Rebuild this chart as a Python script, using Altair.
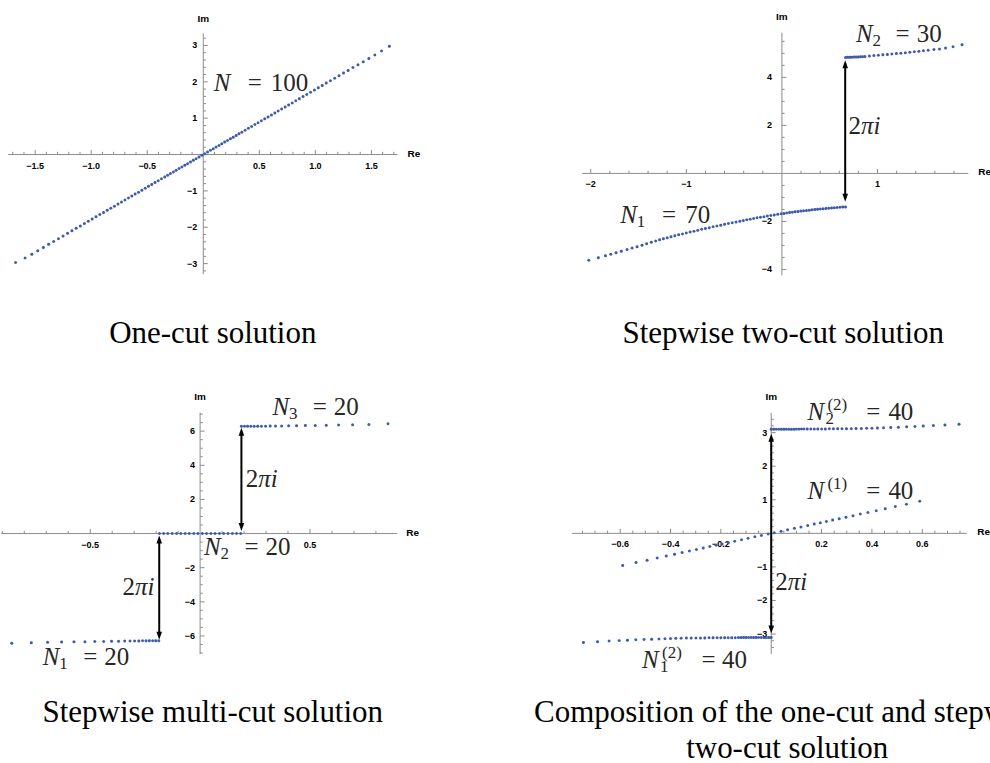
import altair as alt
import numpy as np
import pandas as pd

SERIF = "Liberation Serif"
SANS = "Liberation Sans"
DOT_BLUE = "#3D5BAA"
AXIS_GREY = "#8C8C8C"
INK = "#262626"
MATH = 25
SCRIPT = 17
CAPTION = 31

# ---------------- eigenvalue positions (Re, Im) ----------------
# One-cut solution, N = 100
one_re_neg = [-1.675, -1.590, -1.530, -1.477, -1.427, -1.380, -1.335, -1.292, -1.251, -1.211,
              -1.172, -1.134, -1.097, -1.061, -1.026, -0.991, -0.957, -0.923, -0.890, -0.857,
              -0.825, -0.793, -0.761, -0.730, -0.699, -0.668, -0.638, -0.608, -0.578, -0.548,
              -0.518, -0.489, -0.460, -0.431, -0.402, -0.373, -0.344, -0.318, -0.293, -0.267,
              -0.242, -0.216, -0.191, -0.165, -0.140, -0.114, -0.089, -0.064, -0.038, -0.013]
one_im_neg = [-2.970, -2.846, -2.739, -2.644, -2.554, -2.470, -2.390, -2.313, -2.239, -2.168,
              -2.098, -2.030, -1.964, -1.899, -1.837, -1.774, -1.713, -1.652, -1.593, -1.534,
              -1.477, -1.419, -1.362, -1.307, -1.251, -1.196, -1.142, -1.088, -1.035, -0.981,
              -0.927, -0.875, -0.823, -0.771, -0.720, -0.668, -0.616, -0.569, -0.524, -0.478,
              -0.433, -0.387, -0.342, -0.295, -0.251, -0.204, -0.159, -0.115, -0.068, -0.023]
one_re_pos = [0.013, 0.038, 0.064, 0.089, 0.114, 0.140, 0.165, 0.191, 0.216, 0.242,
              0.267, 0.293, 0.318, 0.344, 0.373, 0.402, 0.431, 0.460, 0.489, 0.518,
              0.548, 0.578, 0.608, 0.638, 0.668, 0.699, 0.730, 0.761, 0.793, 0.825,
              0.857, 0.890, 0.923, 0.957, 0.991, 1.026, 1.061, 1.097, 1.134, 1.172,
              1.211, 1.251, 1.292, 1.335, 1.380, 1.427, 1.477, 1.530, 1.590, 1.660]
one_im_pos = [0.023, 0.068, 0.115, 0.159, 0.204, 0.251, 0.295, 0.342, 0.387, 0.433,
              0.478, 0.524, 0.569, 0.616, 0.668, 0.720, 0.771, 0.823, 0.875, 0.927,
              0.981, 1.035, 1.088, 1.142, 1.196, 1.251, 1.307, 1.362, 1.419, 1.477,
              1.534, 1.593, 1.652, 1.713, 1.774, 1.837, 1.899, 1.964, 2.030, 2.098,
              2.168, 2.239, 2.313, 2.390, 2.470, 2.554, 2.644, 2.739, 2.846, 2.980]

# Stepwise two-cut solution, N1 = 70, N2 = 30
two_re_n1 = [-2.020, -1.920, -1.846, -1.790, -1.735, -1.680, -1.620, -1.567, -1.515, -1.463,
             -1.415, -1.366, -1.320, -1.280, -1.240, -1.200, -1.160, -1.120, -1.080, -1.040,
             -1.000, -0.960, -0.920, -0.880, -0.840, -0.800, -0.760, -0.720, -0.680, -0.640,
             -0.600, -0.560, -0.520, -0.480, -0.440, -0.404, -0.368, -0.332, -0.296, -0.260,
             -0.224, -0.188, -0.152, -0.116, -0.080, -0.044, -0.008, 0.021, 0.050, 0.080,
             0.109, 0.138, 0.168, 0.197, 0.226, 0.256, 0.285, 0.314, 0.344, 0.373,
             0.402, 0.431, 0.461, 0.490, 0.519, 0.549, 0.578, 0.607, 0.636, 0.665]
two_im_n1 = [-3.620, -3.510, -3.430, -3.370, -3.300, -3.240, -3.170, -3.110, -3.050, -2.990,
             -2.930, -2.870, -2.810, -2.760, -2.719, -2.678, -2.638, -2.598, -2.558, -2.519,
             -2.480, -2.442, -2.404, -2.367, -2.330, -2.294, -2.258, -2.223, -2.188, -2.154,
             -2.120, -2.087, -2.054, -2.022, -1.990, -1.961, -1.933, -1.905, -1.878, -1.851,
             -1.825, -1.800, -1.775, -1.751, -1.728, -1.705, -1.683, -1.666, -1.649, -1.632,
             -1.616, -1.600, -1.585, -1.570, -1.556, -1.542, -1.529, -1.516, -1.503, -1.491,
             -1.479, -1.468, -1.457, -1.447, -1.437, -1.428, -1.419, -1.411, -1.403, -1.395]
two_re_n2 = [0.665, 0.684, 0.703, 0.722, 0.741, 0.760, 0.780, 0.800, 0.821, 0.843,
             0.868, 0.915, 0.962, 1.009, 1.056, 1.103, 1.150, 1.197, 1.244, 1.291,
             1.338, 1.385, 1.432, 1.480, 1.530, 1.590, 1.648, 1.712, 1.790, 1.884]
two_im_n2 = [4.830, 4.833, 4.836, 4.839, 4.842, 4.845, 4.848, 4.852, 4.856, 4.860,
             4.868, 4.888, 4.908, 4.924, 4.940, 4.955, 4.972, 4.988, 5.005, 5.024,
             5.045, 5.065, 5.085, 5.106, 5.127, 5.155, 5.185, 5.220, 5.270, 5.360]

# Stepwise multi-cut solution, N1 = N2 = N3 = 20
multi_re_n1 = [-0.857, -0.768, -0.694, -0.630, -0.574, -0.524, -0.479, -0.439, -0.403, -0.371,
               -0.343, -0.319, -0.298, -0.279, -0.262, -0.246, -0.231, -0.216, -0.202, -0.188]
multi_im_n1 = [-6.430, -6.398, -6.378, -6.362, -6.348, -6.337, -6.328, -6.320, -6.313, -6.307,
               -6.302, -6.298, -6.295, -6.292, -6.290, -6.288, -6.286, -6.285, -6.284, -6.283]
multi_re_n2 = [-0.185, -0.166, -0.147, -0.127, -0.107, -0.088, -0.068, -0.049, -0.029, -0.010,
               0.010, 0.029, 0.049, 0.068, 0.088, 0.107, 0.127, 0.147, 0.166, 0.185]
multi_im_n2 = [0.0, 0.0, 0.0, 0.0, 0.0, 0.0, 0.0, 0.0, 0.0, 0.0,
               0.0, 0.0, 0.0, 0.0, 0.0, 0.0, 0.0, 0.0, 0.0, 0.0]
multi_re_n3 = [0.188, 0.202, 0.216, 0.231, 0.246, 0.262, 0.279, 0.298, 0.319, 0.343,
               0.371, 0.403, 0.439, 0.479, 0.524, 0.574, 0.630, 0.694, 0.768, 0.855]
multi_im_n3 = [6.283, 6.284, 6.285, 6.286, 6.288, 6.290, 6.292, 6.295, 6.298, 6.302,
               6.307, 6.313, 6.320, 6.328, 6.337, 6.348, 6.362, 6.378, 6.398, 6.430]

# Composition of the one-cut (N(1) = 40) and stepwise two-cut (N1(2) = N2(2) = 40) solutions
comp_re_one = [-0.590, -0.537, -0.493, -0.453, -0.417, -0.384, -0.354, -0.325, -0.297, -0.270,
               -0.244, -0.219, -0.195, -0.171, -0.145, -0.118, -0.092, -0.065, -0.039, -0.012,
               0.012, 0.039, 0.065, 0.092, 0.118, 0.145, 0.171, 0.195, 0.219, 0.244,
               0.270, 0.297, 0.325, 0.354, 0.384, 0.417, 0.453, 0.493, 0.537, 0.590]
comp_im_one = [-0.956, -0.870, -0.799, -0.734, -0.676, -0.622, -0.573, -0.527, -0.481, -0.437,
               -0.395, -0.355, -0.316, -0.277, -0.235, -0.191, -0.149, -0.105, -0.063, -0.019,
               0.019, 0.063, 0.105, 0.149, 0.191, 0.235, 0.277, 0.316, 0.355, 0.395,
               0.437, 0.481, 0.527, 0.573, 0.622, 0.676, 0.734, 0.799, 0.870, 0.956]
comp_re_n1 = [-0.746, -0.690, -0.644, -0.604, -0.571, -0.538, -0.505, -0.475, -0.446, -0.422,
              -0.400, -0.379, -0.358, -0.337, -0.318, -0.299, -0.281, -0.264, -0.247, -0.231,
              -0.215, -0.200, -0.185, -0.171, -0.157, -0.143, -0.130, -0.120, -0.110, -0.100,
              -0.090, -0.080, -0.070, -0.060, -0.050, -0.040, -0.030, -0.020, -0.010, 0.000]
comp_im_n1 = [-3.250, -3.228, -3.210, -3.196, -3.184, -3.173, -3.163, -3.154, -3.146, -3.139,
              -3.133, -3.128, -3.124, -3.120, -3.118, -3.117, -3.116, -3.115, -3.114, -3.113,
              -3.112, -3.111, -3.110, -3.109, -3.108, -3.107, -3.106, -3.106, -3.105, -3.105,
              -3.104, -3.104, -3.103, -3.103, -3.102, -3.102, -3.101, -3.101, -3.100, -3.100]
comp_re_n2 = [0.000, 0.010, 0.020, 0.030, 0.040, 0.050, 0.060, 0.070, 0.080, 0.090,
              0.100, 0.110, 0.120, 0.130, 0.143, 0.157, 0.171, 0.185, 0.200, 0.215,
              0.231, 0.247, 0.264, 0.281, 0.299, 0.318, 0.337, 0.358, 0.379, 0.400,
              0.422, 0.446, 0.475, 0.505, 0.538, 0.571, 0.604, 0.644, 0.690, 0.746]
comp_im_n2 = [3.100, 3.100, 3.101, 3.101, 3.102, 3.102, 3.103, 3.103, 3.104, 3.104,
              3.105, 3.105, 3.106, 3.106, 3.107, 3.108, 3.109, 3.110, 3.111, 3.112,
              3.113, 3.114, 3.115, 3.116, 3.117, 3.118, 3.120, 3.124, 3.128, 3.133,
              3.139, 3.146, 3.154, 3.163, 3.173, 3.184, 3.196, 3.210, 3.228, 3.250]

# ---------------- tick label values ----------------
one_x_labels = [-1.5, -1.0, -0.5, 0.5, 1.0, 1.5]
one_y_labels = [-3, -2, -1, 1, 2, 3]
two_x_labels = [-2, -1, 1]
two_y_labels = [-4, -2, 2, 4]
multi_x_labels = [-0.5, 0.5]
multi_y_labels = [-6, -4, -2, 2, 4, 6]
comp_x_labels = [-0.6, -0.4, -0.2, 0.2, 0.4, 0.6]
comp_y_labels = [-3, -2, -1, 1, 2, 3]

CAPTIONS = ["One-cut solution", "Stepwise two-cut solution", "Stepwise multi-cut solution",
            ["Composition of the one-cut and stepwise", "two-cut solution"]]

CELL_W = 495
CELL_H = 381.5


class Frame:
    """A panel cell whose scales put the origin at pixel (ox, oy)."""

    def __init__(self, ox, oy, ux, uy, w=CELL_W, h=CELL_H):
        self.w, self.h, self.ox, self.oy = w, h, ox, oy
        self.xs = alt.Scale(domain=[-ox / ux, (w - ox) / ux], nice=False, zero=False)
        self.ys = alt.Scale(domain=[-(h - oy) / uy, oy / uy], nice=False, zero=False)

    def X(self, f):
        return alt.X(f"{f}:Q", scale=self.xs, axis=None)

    def Y(self, f):
        return alt.Y(f"{f}:Q", scale=self.ys, axis=None)


def tick_grid(lo, hi, step, major):
    vals = np.round(np.arange(lo, hi + step / 2, step), 4)
    return [float(v) for v in vals
            if abs(v) > 1e-9 and abs(v / major - round(v / major)) > 1e-6]


def axes_layers(fr, xr, yr, xmaj, ymaj, xmin, ymin, xfmt, yfmt, ypad, xdy=11):
    """Axis lines crossing at the origin, inward ticks and bold tick labels."""
    layers = []
    xl = pd.DataFrame({"a": [xr[0]], "b": [xr[1]], "z": [0.0]})
    yl = pd.DataFrame({"a": [yr[0]], "b": [yr[1]], "z": [0.0]})
    layers.append(alt.Chart(xl).mark_rule(color=AXIS_GREY, strokeWidth=1)
                  .encode(x=fr.X("a"), x2="b:Q", y=fr.Y("z")))
    layers.append(alt.Chart(yl).mark_rule(color=AXIS_GREY, strokeWidth=1)
                  .encode(y=fr.Y("a"), y2="b:Q", x=fr.X("z")))
    for vals, length in ((xmaj, 4.5), (xmin, 2.7)):
        df = pd.DataFrame({"v": vals, "z": [0.0] * len(vals)})
        layers.append(alt.Chart(df).mark_rule(color=AXIS_GREY, strokeWidth=1, y2Offset=-length)
                      .encode(x=fr.X("v"), y=fr.Y("z"), y2="z:Q"))
    for vals, length in ((ymaj, 4.5), (ymin, 2.7)):
        df = pd.DataFrame({"v": vals, "z": [0.0] * len(vals)})
        layers.append(alt.Chart(df).mark_rule(color=AXIS_GREY, strokeWidth=1, x2Offset=length)
                      .encode(y=fr.Y("v"), x=fr.X("z"), x2="z:Q"))
    style = dict(font=SANS, fontWeight="bold", fontSize=9, color="black")
    xdf = pd.DataFrame({"v": xmaj, "z": [0.0] * len(xmaj)})
    ydf = pd.DataFrame({"v": ymaj, "z": [0.0] * len(ymaj)})
    layers.append(alt.Chart(xdf).mark_text(align="center", baseline="middle", dy=xdy, **style)
                  .encode(x=fr.X("v"), y=fr.Y("z"), text=alt.Text("v:Q", format=xfmt)))
    layers.append(alt.Chart(ydf).mark_text(align="right", baseline="middle", dx=-ypad, **style)
                  .encode(y=fr.Y("v"), x=fr.X("z"), text=alt.Text("v:Q", format=yfmt)))
    return layers


def points_layer(fr, re, im):
    df = pd.DataFrame({"re": re, "im": im})
    return alt.Chart(df).mark_circle(size=9, color=DOT_BLUE, opacity=1).encode(
        x=fr.X("re"), y=fr.Y("im"))


def text_piece(fr, x, y, s, size=MATH, italic=False, dx=0, dy=0, align="left",
               baseline="alphabetic", font=SERIF, weight="normal", color=INK):
    df = pd.DataFrame({"x": [x], "y": [y], "s": [s]})
    return alt.Chart(df).mark_text(
        font=font, fontSize=size, fontStyle="italic" if italic else "normal",
        fontWeight=weight, align=align, baseline=baseline, dx=dx, dy=dy,
        color=color, clip=True,
    ).encode(x=fr.X("x"), y=fr.Y("y"), text=alt.Text("s:N"))


def n_label(fr, x, y, value, sub=None, sup=None, sub_dx=16.5, sup_dx=19.5,
            eq_dx=47.5, val_dx=61.5):
    layers = [text_piece(fr, x, y, "N", italic=True)]
    if sub:
        layers.append(text_piece(fr, x, y, sub, size=SCRIPT, dx=sub_dx, dy=4))
    if sup:
        layers.append(text_piece(fr, x, y, sup, size=SCRIPT, dx=sup_dx, dy=-10))
    layers.append(text_piece(fr, x, y, "=", dx=eq_dx, align="center"))
    layers.append(text_piece(fr, x, y, value, dx=val_dx))
    return layers


def two_pi_i(fr, x, y):
    return [text_piece(fr, x, y, "2"), text_piece(fr, x, y, "πi", italic=True, dx=12.5)]


def axis_names(fr, x_end, y_end, re_dx=10, im_dy=-15):
    return [
        text_piece(fr, x_end, 0, "Re", size=10, font=SANS, weight="bold", dx=re_dx, dy=-1,
                   baseline="middle", color="black"),
        text_piece(fr, 0, y_end, "Im", size=10, font=SANS, weight="bold", dy=im_dy,
                   align="center", baseline="middle", color="black"),
    ]


UP_HEAD = "M0,0L-0.7,2L0.7,2Z"
DOWN_HEAD = "M0,0L-0.7,-2L0.7,-2Z"


def arrow(fr, x, lo, hi):
    df = pd.DataFrame({"x": [x], "lo": [lo], "hi": [hi]})
    base = alt.Chart(df)
    shaft = base.mark_rule(color="black", strokeWidth=2, yOffset=-4, y2Offset=4).encode(
        x=fr.X("x"), y=fr.Y("lo"), y2="hi:Q")
    top = base.mark_point(shape=UP_HEAD, filled=True, color="black", size=64, opacity=1).encode(
        x=fr.X("x"), y=fr.Y("hi"))
    bottom = base.mark_point(shape=DOWN_HEAD, filled=True, color="black", size=64, opacity=1).encode(
        x=fr.X("x"), y=fr.Y("lo"))
    return [shaft, top, bottom]


def caption(fr, x, y, s):
    return text_piece(fr, x, y, s, size=CAPTION, align="center", color="black")


# ---------------- panel 1: one-cut ----------------
f1 = Frame(202.5, 154.3, 112.2, 36.4)
p1_layers = axes_layers(f1, (-1.742, 1.733), (-3.29, 3.33),
                        one_x_labels, one_y_labels,
                        tick_grid(-1.7, 1.7, 0.1, 0.5), tick_grid(-3.2, 3.2, 0.2, 1.0),
                        ".1f", "d", ypad=6)
p1_layers.append(points_layer(f1, one_re_neg + one_re_pos, one_im_neg + one_im_pos))
p1_layers += axis_names(f1, 1.733, 3.33, re_dx=10, im_dy=-14)
p1_layers += [text_piece(f1, 0.094, 1.747, "N", italic=True),
              text_piece(f1, 0.094, 1.747, "=", dx=41, align="center"),
              text_piece(f1, 0.094, 1.747, "100", dx=57)]
p1_layers.append(caption(f1, 0.085, -5.184, CAPTIONS[0]))
p1 = alt.layer(*p1_layers).properties(width=f1.w, height=f1.h)

# ---------------- panel 2: stepwise two-cut ----------------
f2 = Frame(286.7, 173.2, 95.7, 24.04)
p2_layers = axes_layers(f2, (-2.09, 1.95), (-4.25, 5.86),
                        two_x_labels, two_y_labels,
                        tick_grid(-2.0, 1.8, 0.2, 1.0), tick_grid(-4.0, 5.5, 0.5, 2.0),
                        "d", "d", ypad=10)
p2_layers.append(points_layer(f2, two_re_n1 + two_re_n2, two_im_n1 + two_im_n2))
p2_layers += axis_names(f2, 1.95, 5.86, re_dx=10, im_dy=-15.5)
p2_layers += arrow(f2, 0.662, -1.18, 4.71)
p2_layers += two_pi_i(f2, 0.696, 1.63)
p2_layers += n_label(f2, 0.776, 5.458, "30", sub="2", eq_dx=46.5, val_dx=60.7)
p2_layers += n_label(f2, -1.690, -2.084, "70", sub="1", eq_dx=48.7, val_dx=65)
p2_layers.append(caption(f2, 0.0136, -7.063, CAPTIONS[1]))
p2 = alt.layer(*p2_layers).properties(width=f2.w, height=f2.h)

# ---------------- panel 3: stepwise multi-cut ----------------
f3 = Frame(199.3, 533.2 - CELL_H, 220.0, 17.08)
p3_layers = axes_layers(f3, (-0.905, 0.897), (-7.07, 7.08),
                        multi_x_labels, multi_y_labels,
                        tick_grid(-0.9, 0.8, 0.1, 0.5), tick_grid(-7.0, 7.0, 0.5, 2.0),
                        ".1f", "d", ypad=5)
p3_layers.append(points_layer(f3, multi_re_n1 + multi_re_n2 + multi_re_n3,
                              multi_im_n1 + multi_im_n2 + multi_im_n3))
p3_layers += axis_names(f3, 0.897, 7.08, re_dx=9, im_dy=-15.5)
p3_layers += arrow(f3, -0.186, -6.22, -0.12)
p3_layers += arrow(f3, 0.188, 0.15, 6.20)
p3_layers += two_pi_i(f3, 0.208, 2.72)
p3_layers += two_pi_i(f3, -0.353, -3.62)
p3_layers += n_label(f3, 0.329, 6.92, "20", sub="3")
p3_layers += n_label(f3, 0.018, -1.276, "20", sub="2")
p3_layers += n_label(f3, -0.716, -7.717, "20", sub="1")
p3_layers.append(caption(f3, 0.0577, -11.054, CAPTIONS[2]))
p3 = alt.layer(*p3_layers).properties(width=f3.w, height=f3.h)

# ---------------- panel 4: composition ----------------
f4 = Frame(276.0, 533.0 - CELL_H, 252.0, 33.6)
p4_layers = axes_layers(f4, (-0.791, 0.777), (-3.60, 3.59),
                        comp_x_labels, comp_y_labels,
                        tick_grid(-0.75, 0.75, 0.05, 0.2), tick_grid(-3.4, 3.4, 0.2, 1.0),
                        ".1f", "d", ypad=4)
p4_layers.append(points_layer(f4, comp_re_one + comp_re_n1 + comp_re_n2,
                              comp_im_one + comp_im_n1 + comp_im_n2))
p4_layers += axis_names(f4, 0.777, 3.59, re_dx=10.5, im_dy=-15.5)
p4_layers += arrow(f4, 0.0, -2.985, 2.97)
p4_layers += two_pi_i(f4, 0.016, -1.696)
p4_layers += n_label(f4, 0.144, 3.384, "40", sub="2", sup="(2)", sub_dx=18, sup_dx=20,
                     eq_dx=66, val_dx=81)
p4_layers += n_label(f4, 0.144, 1.033, "40", sup="(1)", sup_dx=20, eq_dx=66, val_dx=81)
p4_layers += n_label(f4, -0.513, -4.018, "40", sub="1", sup="(2)", sub_dx=18, sup_dx=20,
                     eq_dx=66.6, val_dx=80)
p4_layers.append(caption(f4, 0.0635, -5.625, CAPTIONS[3][0]))
p4_layers.append(caption(f4, 0.0635, -6.696, CAPTIONS[3][1]))
p4 = alt.layer(*p4_layers).properties(width=f4.w, height=f4.h)

chart = (
    alt.concat(p1, p2, p3, p4, columns=2, spacing=0, bounds="flush")
    .properties(padding=0, background="white")
    .configure_view(strokeWidth=0)
)

chart.save("out.html", embed_options={"renderer": "svg", "actions": False})
